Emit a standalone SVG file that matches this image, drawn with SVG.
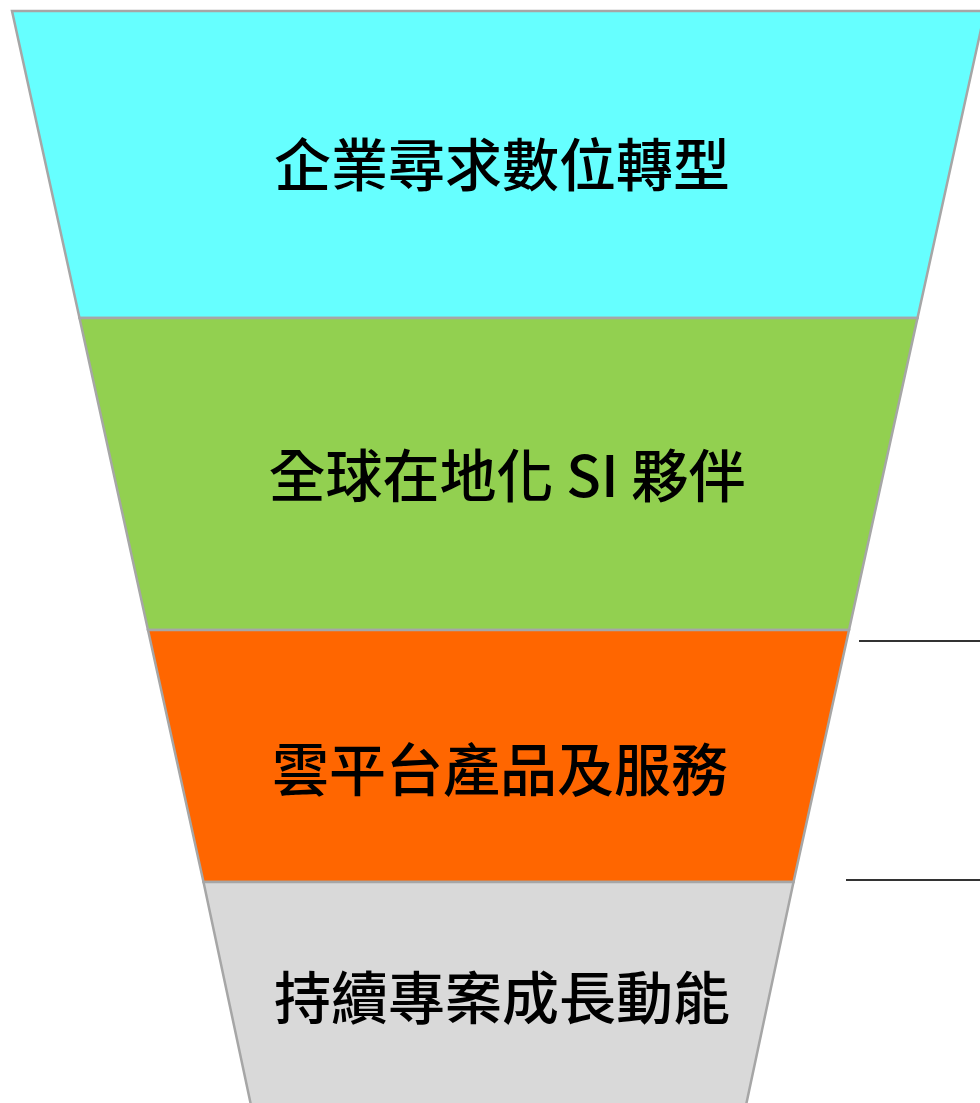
<svg xmlns="http://www.w3.org/2000/svg" width="980" height="1103" viewBox="0 0 980 1103">
<style>
.seg{stroke:#a6a6a6;stroke-width:2.5;stroke-linejoin:miter}
.lbl{font-family:"Noto Sans CJK TC","Noto Sans CJK SC",sans-serif;font-size:57px;font-weight:500;fill:#000;text-anchor:middle}
.tick{stroke:#333;stroke-width:2}
</style>
<rect width="980" height="1103" fill="#ffffff"/>
<g id="stage1">
<polygon class="seg" fill="#66ffff" points="12,11 985,11 917.5,318 79.5,318"/>
<text class="lbl" x="502" y="186">企業尋求數位轉型</text>
</g>
<g id="stage2">
<polygon class="seg" fill="#92d050" points="79.5,318 917.5,318 849,630 148,630"/>
<text class="lbl" x="507" y="497">全球在地化 SI 夥伴</text>
</g>
<g id="stage3">
<polygon class="seg" fill="#ff6600" points="148,630 849,630 793.5,882 203.5,882"/>
<text class="lbl" x="500" y="791">雲平台產品及服務</text>
</g>
<g id="stage4">
<polygon class="seg" fill="#d9d9d9" points="203.5,882 793.5,882 745,1110 252,1110"/>
<text class="lbl" x="502" y="1019">持續專案成長動能</text>
</g>
<g id="connectors">
<line class="tick" x1="859" y1="641" x2="980" y2="641"/>
<line class="tick" x1="846" y1="880" x2="980" y2="880"/>
</g>
</svg>
